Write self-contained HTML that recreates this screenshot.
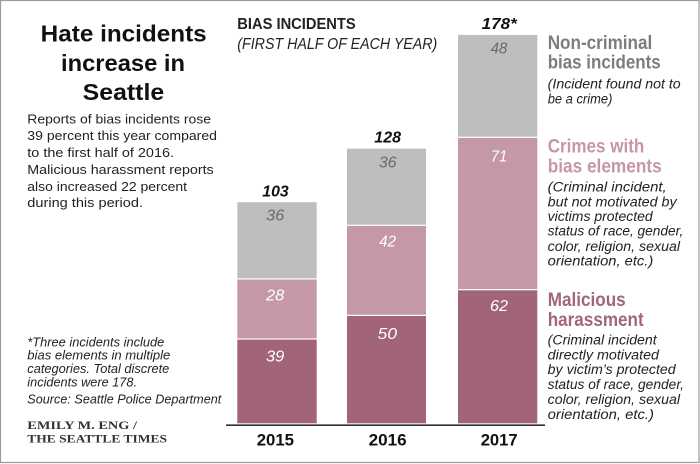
<!DOCTYPE html>
<html><head><meta charset="utf-8"><style>
html,body{margin:0;padding:0;background:#fff;}
svg{display:block;}
text{font-family:"Liberation Sans",sans-serif;}
.b{font-weight:bold;}
.i{font-style:italic;}
text.serif{font-family:"Liberation Serif",serif;font-weight:bold;}
</style></head><body>
<svg width="700" height="464" viewBox="0 0 700 464" xmlns="http://www.w3.org/2000/svg">
<rect x="0" y="0" width="700" height="464" fill="#fff"/>
<rect x="0.5" y="0.5" width="698.5" height="462" fill="none" stroke="#9a9a9a" stroke-width="1.2"/>

<!-- Title -->
<g class="b" font-size="23" fill="#111">
<text x="40.7" y="41.7" textLength="166" lengthAdjust="spacingAndGlyphs">Hate incidents</text>
<text x="61" y="71" textLength="124" lengthAdjust="spacingAndGlyphs">increase in</text>
<text x="82.7" y="100" textLength="81.5" lengthAdjust="spacingAndGlyphs">Seattle</text>
</g>

<!-- Body -->
<g font-size="13" fill="#222">
<text x="27.3" y="123.3" textLength="183.7" lengthAdjust="spacingAndGlyphs">Reports of bias incidents rose</text>
<text x="27.3" y="140" textLength="189.7" lengthAdjust="spacingAndGlyphs">39 percent this year compared</text>
<text x="27.3" y="156.8" textLength="146.7" lengthAdjust="spacingAndGlyphs">to the first half of 2016.</text>
<text x="27.3" y="174.2" textLength="186.4" lengthAdjust="spacingAndGlyphs">Malicious harassment reports</text>
<text x="27.3" y="190.8" textLength="159.7" lengthAdjust="spacingAndGlyphs">also increased 22 percent</text>
<text x="27.3" y="206.8" textLength="115.7" lengthAdjust="spacingAndGlyphs">during this period.</text>
</g>

<!-- Footnote -->
<g class="i" font-size="12.5" fill="#222">
<text x="27.3" y="346.7" textLength="137" lengthAdjust="spacingAndGlyphs">*Three incidents include</text>
<text x="27.3" y="359.5" textLength="143" lengthAdjust="spacingAndGlyphs">bias elements in multiple</text>
<text x="27.3" y="373.2" textLength="142" lengthAdjust="spacingAndGlyphs">categories. Total discrete</text>
<text x="27.3" y="386.6" textLength="109.7" lengthAdjust="spacingAndGlyphs">incidents were 178.</text>
<text x="27.3" y="403.6" textLength="194" lengthAdjust="spacingAndGlyphs">Source: Seattle Police Department</text>
</g>

<!-- Credit -->
<text class="serif" x="27.3" y="429" font-size="12" fill="#333" textLength="109.7" lengthAdjust="spacingAndGlyphs">EMILY M. ENG /</text>
<text class="serif" x="27.3" y="442.7" font-size="12" fill="#333" textLength="139.7" lengthAdjust="spacingAndGlyphs">THE SEATTLE TIMES</text>

<!-- Chart header -->
<text class="b" x="237.3" y="29" font-size="16" fill="#222" textLength="118.4" lengthAdjust="spacingAndGlyphs">BIAS INCIDENTS</text>
<text class="i" x="237.3" y="49" font-size="16" fill="#222" textLength="200" lengthAdjust="spacingAndGlyphs">(FIRST HALF OF EACH YEAR)</text>

<!-- Bars 2015 -->
<rect x="237.3" y="202.2" width="79.4" height="76.1" fill="#bdbec0"/>
<rect x="237.3" y="279.5" width="79.4" height="58.9" fill="#c499a5"/>
<rect x="237.3" y="339.6" width="79.4" height="83.7" fill="#a16479"/>
<!-- Bars 2016 -->
<rect x="347" y="148.6" width="79" height="76.1" fill="#bdbec0"/>
<rect x="347" y="225.9" width="79" height="88.9" fill="#c499a5"/>
<rect x="347" y="316" width="79" height="107.3" fill="#a16479"/>
<!-- Bars 2017 -->
<rect x="458" y="34.9" width="79.3" height="101.8" fill="#bdbec0"/>
<rect x="458" y="137.9" width="79.3" height="151.2" fill="#c499a5"/>
<rect x="458" y="290.3" width="79.3" height="133" fill="#a16479"/>

<!-- Axis -->
<line x1="226" y1="425.2" x2="545" y2="425.2" stroke="#333" stroke-width="1.6"/>

<!-- Totals -->
<g class="b i" font-size="16" fill="#111">
<text x="262.3" y="196.7" textLength="26.4" lengthAdjust="spacingAndGlyphs">103</text>
<text x="374.3" y="142.3" textLength="26.7" lengthAdjust="spacingAndGlyphs">128</text>
<text x="481.7" y="29" textLength="35" lengthAdjust="spacingAndGlyphs">178*</text>
</g>

<!-- Segment labels -->
<g class="i" font-size="16">
<text x="266" y="220.7" fill="#6a6a6a" textLength="18.3" lengthAdjust="spacingAndGlyphs">36</text>
<text x="266" y="300.7" fill="#fff" textLength="18.3" lengthAdjust="spacingAndGlyphs">28</text>
<text x="266" y="361.7" fill="#fff" textLength="18.3" lengthAdjust="spacingAndGlyphs">39</text>
<text x="379" y="167.3" fill="#6a6a6a" textLength="17.5" lengthAdjust="spacingAndGlyphs">36</text>
<text x="379.3" y="246.7" fill="#fff" textLength="16.7" lengthAdjust="spacingAndGlyphs">42</text>
<text x="377.7" y="339" fill="#fff" textLength="19.3" lengthAdjust="spacingAndGlyphs">50</text>
<text x="490.7" y="53.3" fill="#6a6a6a" textLength="16.6" lengthAdjust="spacingAndGlyphs">48</text>
<text x="490.7" y="161.7" fill="#fff" textLength="16.6" lengthAdjust="spacingAndGlyphs">71</text>
<text x="490" y="311" fill="#fff" textLength="18" lengthAdjust="spacingAndGlyphs">62</text>
</g>

<!-- Years -->
<g class="b" font-size="17" fill="#111">
<text x="256.7" y="445.7" textLength="37.3" lengthAdjust="spacingAndGlyphs">2015</text>
<text x="368.7" y="445.7" textLength="38" lengthAdjust="spacingAndGlyphs">2016</text>
<text x="480.7" y="445.7" textLength="37" lengthAdjust="spacingAndGlyphs">2017</text>
</g>

<!-- Legend titles -->
<g class="b" font-size="19">
<text x="547.7" y="49" fill="#7c7d80" textLength="104.6" lengthAdjust="spacingAndGlyphs">Non-criminal</text>
<text x="547.7" y="68.3" fill="#7c7d80" textLength="113" lengthAdjust="spacingAndGlyphs">bias incidents</text>
<text x="547.7" y="152.3" fill="#c698a5" textLength="96.6" lengthAdjust="spacingAndGlyphs">Crimes with</text>
<text x="547.7" y="172.3" fill="#c698a5" textLength="114" lengthAdjust="spacingAndGlyphs">bias elements</text>
<text x="547.7" y="306" fill="#a2667b" textLength="78" lengthAdjust="spacingAndGlyphs">Malicious</text>
<text x="547.7" y="326" fill="#a2667b" textLength="96" lengthAdjust="spacingAndGlyphs">harassment</text>
</g>

<!-- Legend descriptions -->
<g class="i" font-size="13.5" fill="#222">
<text x="547.7" y="88.3" textLength="133" lengthAdjust="spacingAndGlyphs">(Incident found not to</text>
<text x="547.7" y="103.3" textLength="64.7" lengthAdjust="spacingAndGlyphs">be a crime)</text>
<text x="547.7" y="191.7" textLength="119" lengthAdjust="spacingAndGlyphs">(Criminal incident,</text>
<text x="547.7" y="206.3" textLength="129" lengthAdjust="spacingAndGlyphs">but not motivated by</text>
<text x="547.7" y="221" textLength="105" lengthAdjust="spacingAndGlyphs">victims protected</text>
<text x="547.7" y="235.7" textLength="135.6" lengthAdjust="spacingAndGlyphs">status of race, gender,</text>
<text x="547.7" y="250.8" textLength="132.3" lengthAdjust="spacingAndGlyphs">color, religion, sexual</text>
<text x="547.7" y="265.7" textLength="105.6" lengthAdjust="spacingAndGlyphs">orientation, etc.)</text>
<text x="547.7" y="344.3" textLength="109" lengthAdjust="spacingAndGlyphs">(Criminal incident</text>
<text x="547.7" y="359.3" textLength="111.3" lengthAdjust="spacingAndGlyphs">directly motivated</text>
<text x="547.7" y="374" textLength="128" lengthAdjust="spacingAndGlyphs">by victim’s protected</text>
<text x="547.7" y="389" textLength="136.3" lengthAdjust="spacingAndGlyphs">status of race, gender,</text>
<text x="547.7" y="404" textLength="132.3" lengthAdjust="spacingAndGlyphs">color, religion, sexual</text>
<text x="547.7" y="419" textLength="106.3" lengthAdjust="spacingAndGlyphs">orientation, etc.)</text>
</g>
</svg>
</body></html>
